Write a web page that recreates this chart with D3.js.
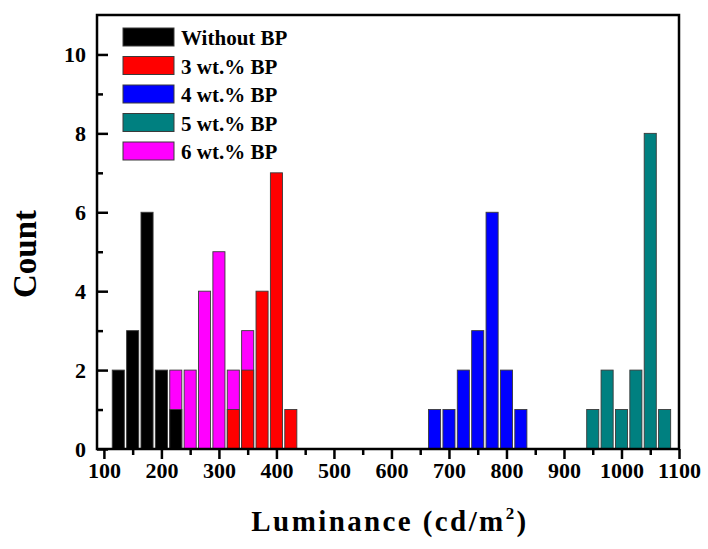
<!DOCTYPE html>
<html>
<head>
<meta charset="utf-8">
<script src="https://cdn.jsdelivr.net/npm/d3@7"></script>
<style>
  body { margin: 0; background: #fff; }
  svg { display: block; font-family: "Liberation Serif", "Times New Roman", serif; font-weight: bold; }
</style>
</head>
<body>
<svg id="chart" width="708" height="549"></svg>
<script>
// histogram bins (luminance, cd/m2) and counts for each BP loading
const seriesNames = ['Without BP', '3 wt.% BP', '4 wt.% BP', '5 wt.% BP', '6 wt.% BP'];
const seriesColors = ['#000000', '#ff0000', '#0000ff', '#008080', '#ff00ff'];

const bins0 = [125, 150, 175, 200, 225];
const counts0 = [2, 3, 6, 2, 1];
const bins3 = [325, 350, 375, 400, 425];
const counts3 = [1, 2, 4, 7, 1];
const bins4 = [675, 700, 725, 750, 775, 800, 825];
const counts4 = [1, 1, 2, 3, 6, 2, 1];
const bins5 = [950, 975, 1000, 1025, 1050, 1075];
const counts5 = [1, 2, 1, 2, 8, 1];
const bins6 = [225, 250, 275, 300, 325, 350];
const counts6 = [2, 2, 4, 5, 2, 3];

const xTicks = [100, 200, 300, 400, 500, 600, 700, 800, 900, 1000, 1100];
const yTicks = [0, 2, 4, 6, 8, 10];

const svg = d3.select('#chart');
const m = { left: 97, right: 679, top: 15, bottom: 449 };
const binHalf = 10.5;

const x = d3.scaleLinear().domain([88, 1100]).range([m.left, m.right]);
const y = d3.scaleLinear().domain([0, 11]).range([m.bottom, m.top]);

// series drawn magenta first so the others sit in front of it
const series = [
  { bins: bins6, counts: counts6, color: seriesColors[4] },
  { bins: bins0, counts: counts0, color: seriesColors[0] },
  { bins: bins3, counts: counts3, color: seriesColors[1] },
  { bins: bins4, counts: counts4, color: seriesColors[2] },
  { bins: bins5, counts: counts5, color: seriesColors[3] },
];

series.forEach((s) => {
  svg.append('g').selectAll('rect')
    .data(s.bins.map((b, i) => ({ b, c: s.counts[i] })))
    .enter()
    .append('rect')
    .attr('x', d => x(d.b - binHalf))
    .attr('width', d => x(d.b + binHalf) - x(d.b - binHalf))
    .attr('y', d => y(d.c))
    .attr('height', d => y(0) - y(d.c))
    .attr('fill', s.color)
    .attr('stroke', '#3a3a3a')
    .attr('stroke-width', 0.9);
});

const styleAxis = (g) => {
  g.attr('font-family', null).attr('font-size', null);
  g.select('.domain').remove();
  g.selectAll('line').attr('stroke', '#000').attr('stroke-width', 2.5);
  g.selectAll('text').attr('font-size', 22).attr('fill', '#000');
};

// x axis: minor ticks then labelled major ticks, pointing out
svg.append('g')
  .attr('transform', `translate(0,${m.bottom})`)
  .call(d3.axisBottom(x).tickValues(d3.range(150, 1100, 100)).tickSize(6).tickFormat(''))
  .call(styleAxis);
svg.append('g')
  .attr('transform', `translate(0,${m.bottom})`)
  .call(d3.axisBottom(x).tickValues(xTicks).tickSize(10).tickPadding(3).tickFormat(d3.format('d')))
  .call(styleAxis);

// y axis: ticks pointing into the plot
svg.append('g')
  .attr('transform', `translate(${m.left},0)`)
  .call(d3.axisLeft(y).tickValues(d3.range(1, 11, 2)).tickSize(-6).tickFormat(''))
  .call(styleAxis);
svg.append('g')
  .attr('transform', `translate(${m.left},0)`)
  .call(d3.axisLeft(y).tickValues(yTicks).tickSize(-11).tickPadding(11))
  .call(styleAxis);

// frame
svg.append('rect')
  .attr('x', m.left).attr('y', m.top)
  .attr('width', m.right - m.left).attr('height', m.bottom - m.top)
  .attr('fill', 'none').attr('stroke', '#000').attr('stroke-width', 2.5);

// axis titles
svg.append('text')
  .attr('transform', `translate(36,${(m.top + m.bottom) / 2 + 22}) rotate(-90)`)
  .attr('text-anchor', 'middle')
  .attr('font-size', 33)
  .text('Count');

const xt = svg.append('text')
  .attr('x', 390).attr('y', 531)
  .attr('text-anchor', 'middle')
  .attr('font-size', 29)
  .attr('letter-spacing', 2.4);
xt.append('tspan').text('Luminance (cd/m');
xt.append('tspan').attr('dy', -12).attr('font-size', 17).text('2');
xt.append('tspan').attr('dy', 12).text(')');

// legend
const legend = svg.append('g').attr('transform', 'translate(123,28)');
seriesNames.forEach((name, i) => {
  const row = legend.append('g').attr('transform', `translate(0,${i * 28.5})`);
  row.append('rect')
    .attr('width', 51).attr('height', 18)
    .attr('fill', seriesColors[i])
    .attr('stroke', '#3a3a3a').attr('stroke-width', 1);
  row.append('text')
    .attr('x', 58).attr('y', 17)
    .attr('font-size', 21)
    .text(name);
});
</script>
</body>
</html>
